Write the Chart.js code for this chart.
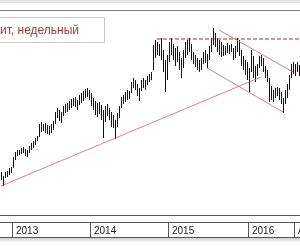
<!DOCTYPE html>
<html>
<head>
<meta charset="utf-8">
<script src="https://cdn.jsdelivr.net/npm/chart.js@4/dist/chart.umd.min.js"></script>
<style>
  html, body { margin: 0; padding: 0; background: #fff; }
  #wrap { width: 300px; height: 250px; position: relative; overflow: hidden; }
</style>
</head>
<body>
<div id="wrap"><canvas id="chart" width="300" height="250"></canvas></div>
<script>
// ===== Weekly bars (high / low) =====
const highs = [
  43, 39, 43, 44, 47, 48, 58, 63, 65, 65, 67, 68, 66, 65, 69, 72, 74, 77, 79, 91,
  93, 91, 92, 90, 89, 91, 94, 103, 107, 105, 103, 109, 111, 112, 114, 116, 117, 118, 115, 120,
  122, 124, 126, 127, 125, 122, 117, 114, 112, 113, 110, 105, 109, 111, 107, 103, 100, 95, 102, 109,
  118, 120, 123, 125, 124, 133, 137, 135, 131, 127, 135, 137, 135, 139, 141, 143, 170, 175, 173, 171,
  177, 165, 155, 160, 173, 177, 171, 167, 169, 163, 157, 165, 173, 175, 177, 171, 163, 160, 157, 155,
  157, 163, 165, 161, 169, 177, 187, 182, 177, 175, 173, 170, 169, 172, 170, 171, 167, 169, 177, 175,
  165, 159, 155, 153, 147, 165, 159, 149, 151, 159, 160, 157, 149, 145, 137, 129, 125, 127, 128, 127,
  123, 117, 125, 131, 140, 151, 153, 151, 153, 150,
];
const lows = [
  35, 29, 37, 38, 40, 42, 47, 55, 59, 60, 61, 62, 59, 58, 62, 65, 67, 70, 74, 78,
  83, 84, 82, 81, 80, 82, 85, 91, 97, 94, 92, 99, 102, 103, 105, 107, 109, 108, 105, 110,
  112, 114, 117, 118, 115, 109, 105, 100, 98, 101, 95, 77, 93, 99, 95, 88, 87, 76, 88, 97,
  107, 111, 113, 115, 116, 122, 127, 125, 119, 114, 124, 127, 125, 130, 133, 135, 145, 157, 160, 159,
  155, 143, 123, 135, 153, 160, 155, 149, 153, 145, 137, 147, 157, 160, 163, 155, 151, 148, 145, 143,
  145, 151, 152, 147, 155, 163, 170, 168, 163, 160, 158, 159, 160, 162, 161, 163, 155, 157, 163, 159,
  149, 145, 140, 135, 123, 143, 137, 133, 139, 147, 149, 143, 137, 133, 113, 115, 113, 117, 119, 115,
  111, 102, 111, 117, 125, 137, 141, 139, 143, 139,
];
const weeks = highs.map((_, i) => String(i + 1));

// Trend lines: [week index, price]
const supportLine = [[0, 29], [130, 138]];
const channelTop = [[109, 185], [146, 143]];
const channelBottom = [[103, 147], [141, 103]];
const resistanceLine = [[78, 176], [149, 176]];

// Time axis boxes: label and first week index
const periodLabels = ["2013", "2014", "2015", "2016", "Aug"];
const periodStarts = [6, 45, 84, 124, 147];

const titleText = "ит, недельный";
const BAR_DATASET = 4;

/**
 * Builds a sparse series so a straight line joins the given points.
 * @param {Array<Array<number>>} points [index, value] pairs.
 */
function lineSeries(points) {
  const arr = new Array(weeks.length).fill(null);
  points.forEach(([i, v]) => (arr[i] = v));
  return arr;
}

// shift the 1px bars half a pixel so they land on whole pixels
const crispBars = {
  id: "crispBars",
  beforeDatasetDraw(chart, args) {
    if (args.index === BAR_DATASET) {
      chart.ctx.save();
      chart.ctx.translate(0.5, 0);
    }
  },
  afterDatasetDraw(chart, args) {
    if (args.index === BAR_DATASET) chart.ctx.restore();
  },
};

const framePlugin = {
  id: "frame",
  afterDraw(chart) {
    const { ctx } = chart;
    const x = chart.scales.x;
    const half = (x.getPixelForValue(1) - x.getPixelForValue(0)) / 2;
    ctx.save();

    // top strip
    ctx.fillStyle = "#e4e4e4";
    ctx.fillRect(0, 0, 300, 3);
    ctx.strokeStyle = "#7a7a7a";
    ctx.lineWidth = 1;
    ctx.beginPath();
    ctx.moveTo(0, 10.5);
    ctx.lineTo(300, 10.5);
    ctx.stroke();

    // bottom axis
    ctx.fillStyle = "#fff";
    ctx.fillRect(0, 215, 300, 35);
    ctx.strokeStyle = "#555";
    ctx.beginPath();
    ctx.moveTo(0, 215.5);
    ctx.lineTo(300, 215.5);
    ctx.moveTo(0, 222.5);
    ctx.lineTo(300, 222.5);
    ctx.moveTo(0, 237.5);
    ctx.lineTo(300, 237.5);
    periodStarts.forEach((i) => {
      const px = Math.round(x.getPixelForValue(i) - half) + 0.5;
      ctx.moveTo(px, 222.5);
      ctx.lineTo(px, 237.5);
    });
    ctx.stroke();
    const grad = ctx.createLinearGradient(0, 238, 0, 243);
    grad.addColorStop(0, "#cfcfcf");
    grad.addColorStop(1, "#ffffff");
    ctx.fillStyle = grad;
    ctx.fillRect(0, 238, 300, 5);

    ctx.fillStyle = "#222";
    ctx.font = "10px 'Liberation Sans', Arial, sans-serif";
    ctx.textBaseline = "alphabetic";
    periodStarts.forEach((i, k) => {
      const px = Math.round(x.getPixelForValue(i) - half);
      ctx.fillText(periodLabels[k], px + 4, 233.5);
    });

    // title box
    ctx.fillStyle = "#fff";
    ctx.fillRect(0, 17, 105, 26);
    ctx.strokeStyle = "#c8c8c8";
    ctx.strokeRect(-0.5, 17.5, 105, 25);
    ctx.fillStyle = "#a33a3a";
    ctx.font = "12px 'Liberation Sans', Arial, sans-serif";
    ctx.fillText(titleText, 0, 33.5);

    ctx.restore();
  },
};

new Chart(document.getElementById("chart"), {
  type: "bar",
  data: {
    labels: weeks,
    datasets: [
      {
        type: "line",
        data: lineSeries(resistanceLine),
        borderColor: "#9c3030",
        borderWidth: 1,
        borderDash: [4, 2],
        pointRadius: 0,
        spanGaps: true,
        order: 0,
      },
      {
        type: "line",
        data: lineSeries(supportLine),
        borderColor: "rgba(205, 100, 100, 0.8)",
        borderWidth: 1,
        pointRadius: 0,
        spanGaps: true,
        order: 0,
      },
      {
        type: "line",
        data: lineSeries(channelTop),
        borderColor: "rgba(205, 100, 100, 0.8)",
        borderWidth: 1,
        pointRadius: 0,
        spanGaps: true,
        order: 0,
      },
      {
        type: "line",
        data: lineSeries(channelBottom),
        borderColor: "rgba(205, 100, 100, 0.8)",
        borderWidth: 1,
        pointRadius: 0,
        spanGaps: true,
        order: 0,
      },
      {
        data: lows.map((l, i) => [l, highs[i]]),
        backgroundColor: "#111",
        barThickness: 1,
        inflateAmount: 0,
        order: 1,
      },
    ],
  },
  options: {
    responsive: false,
    animation: false,
    devicePixelRatio: 1,
    layout: { padding: { top: 11, bottom: 35, left: 0, right: 0 } },
    scales: {
      x: { display: false },
      y: { display: false, min: 0, max: 204 },
    },
    plugins: {
      legend: { display: false },
      tooltip: { enabled: false },
    },
  },
  plugins: [crispBars, framePlugin],
});
</script>
</body>
</html>
